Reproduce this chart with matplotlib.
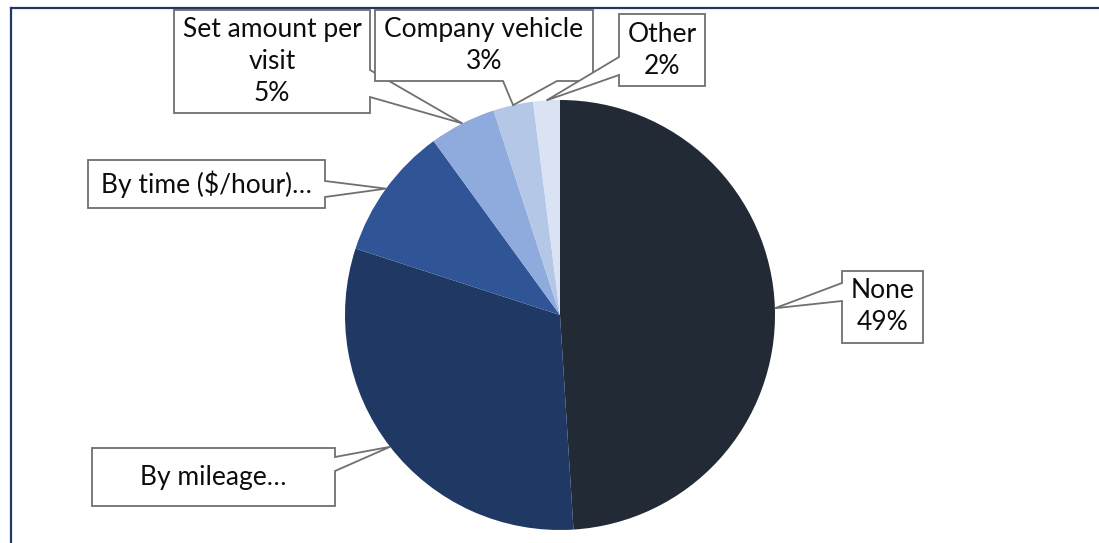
import numpy as np
import matplotlib
matplotlib.use("Agg")
import matplotlib.pyplot as plt
from matplotlib.patches import Polygon
from matplotlib.lines import Line2D

plt.rcParams['font.family'] = ['Lato', 'DejaVu Sans']

categories = ['None', 'By mileage…', 'By time ($/hour)…', 'Set amount per\nvisit',
              'Company vehicle', 'Other']
shares = [49, 31, 10, 5, 3, 2]
show_pct = [True, False, False, True, True, True]
colors = ['#222A35', '#203864', '#2F5597', '#8FAADC', '#B4C7E7', '#DAE3F3']

# callout boxes in pixels: left, top, right, bottom, notch edge, notch span
boxes = [
    (842, 271, 923, 343, 'left', 283, 301),
    (92, 448, 335, 506, 'right', 457, 471),
    (88, 160, 325, 208, 'right', 181, 197),
    (174, 10, 370, 113, 'right', 70, 97),
    (375, 10, 593, 81, 'bottom', 503, 557),
    (619, 14, 705, 86, 'left', 57, 75),
]

W, H = 1099, 543
CX, CY, R = 560, 315, 215


def px(x, y):
    return ((x - CX) / R, (CY - y) / R)


fig = plt.figure(figsize=(W / 100, H / 100), dpi=100)
ax = fig.add_axes([0, 0, 1, 1])
wedges, _ = ax.pie(shares, colors=colors, startangle=90, counterclock=False,
                   radius=1, center=(0, 0), wedgeprops=dict(linewidth=0))
ax.set_xlim(-CX / R, (W - CX) / R)
ax.set_ylim(-(H - CY) / R, CY / R)
ax.set_aspect('auto')
ax.axis('off')

for w, name, val, pct, (l, t, r, b, edge, a1, a2) in zip(
        wedges, categories, shares, show_pct, boxes):
    mid = np.deg2rad((w.theta1 + w.theta2) / 2)
    tip = (np.cos(mid), np.sin(mid))
    if edge == 'right':
        pts = [px(l, t), px(r, t), px(r, a1), tip, px(r, a2), px(r, b), px(l, b)]
    elif edge == 'left':
        pts = [px(l, t), px(r, t), px(r, b), px(l, b), px(l, a2), tip, px(l, a1)]
    else:
        pts = [px(l, t), px(r, t), px(r, b), px(a2, b), tip, px(a1, b), px(l, b)]
    ax.add_patch(Polygon(pts, closed=True, facecolor='white', edgecolor='#707070',
                         linewidth=1.3, zorder=3, clip_on=False))
    label = f"{name}\n{val}%" if pct else name
    tx, ty = px((l + r) / 2, (t + b) / 2)
    ax.text(tx, ty, label, ha='center', va='center', fontsize=19,
            color='#0D0D0D', linespacing=1.35, zorder=4)

# chart frame (top and left edges visible)
fig.add_artist(Line2D([11 / W, 1], [1 - 8 / H, 1 - 8 / H], color='#1F3864', lw=1.6))
fig.add_artist(Line2D([11 / W, 11 / W], [0, 1 - 8 / H], color='#1F3864', lw=1.6))

fig.savefig('out.png', dpi=100)
